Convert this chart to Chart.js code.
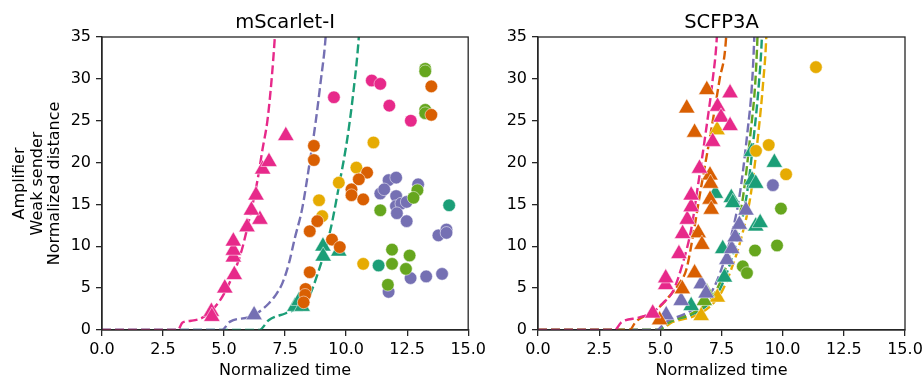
<!DOCTYPE html>
<html><head><meta charset="utf-8">
<script src="https://cdn.jsdelivr.net/npm/chart.js@4"></script>
<style>
html,body{margin:0;padding:0;background:#fff;overflow:hidden;}
#wrap{position:relative;width:923px;height:379px;overflow:hidden;}
.box{position:absolute;top:0;}
</style></head><body>
<div id="wrap">
  <div class="box" style="left:0;width:490px;height:379px"><canvas id="c1" width="490" height="379"></canvas></div>
  <div class="box" style="left:490px;width:443px;height:379px"><canvas id="c2" width="443" height="379"></canvas></div>
</div>
<script>
// ---------- data: left panel (mScarlet-I) ----------
const L_pinkTri = [[4.48,2.2],[4.5,1.6],[5.03,5.0],[5.42,6.6],[5.38,8.7],[5.38,9.5],[5.38,10.6],[5.94,12.3],[6.47,13.2],[6.12,14.3],[6.31,16.1],[6.58,19.2],[6.84,20.1],[7.53,23.2]];
const L_purpleTri = [[6.23,1.8]];
const L_tealTri = [[7.9,2.8],[8.07,3.5],[8.2,2.8],[9.05,10.0],[9.06,8.8],[9.7,9.4]];
const L_pinkCirc = [[9.5,27.8],[11.05,29.8],[11.4,29.4],[11.77,26.8],[12.65,25.0]];
const L_orangeCirc = [[8.68,22.0],[8.68,20.3],[13.49,29.1],[13.49,25.7],[10.86,18.8],[10.52,18.0],[10.22,16.8],[10.22,16.1],[10.7,15.6],[8.82,13.0],[8.51,11.8],[9.42,10.8],[9.74,9.9],[8.51,6.9],[8.34,4.9],[8.32,4.2],[8.26,3.3]];
const L_yellowCirc = [[11.12,22.4],[10.42,19.4],[9.7,17.6],[8.89,15.5],[9.02,13.6],[10.7,7.9]];
const L_limeCirc = [[13.24,31.2],[13.24,30.9],[13.24,26.3],[13.24,25.9],[12.92,16.7],[12.76,15.8],[11.4,14.3],[11.88,9.6],[11.88,7.9],[12.6,8.9],[12.45,7.3],[11.71,5.4]];
const L_tealCirc = [[11.33,7.7],[14.22,14.9]];
const L_purpleCirc = [[11.74,17.9],[12.05,18.2],[11.4,16.3],[11.56,16.8],[12.05,16.0],[12.95,17.4],[12.04,14.8],[12.26,15.1],[12.48,15.3],[12.08,13.95],[12.48,13.0],[13.78,11.3],[14.11,12.0],[14.11,11.6],[12.64,6.2],[13.28,6.4],[13.93,6.7],[11.74,4.55]];
const L_pinkFit = [[0,0],[3.1,0],[3.3,0.9],[3.65,1.1],[4.19,1.6],[4.8,3.4],[5.28,6.0],[5.69,9.2],[6.03,13.2],[6.37,17.9],[6.57,21.5],[6.78,25.1],[6.95,30],[7.08,35],[7.12,37]];
const L_purpleFit = [[0,0],[4.9,0],[5.25,1.0],[6.03,1.55],[6.4,2.1],[6.84,3.2],[7.12,4.2],[7.39,5.6],[7.66,8.0],[7.9,11.0],[8.2,14.5],[8.48,19.5],[8.75,24.8],[8.95,29.5],[9.16,35],[9.2,37]];
const L_tealFit = [[0,0],[6.44,0],[6.84,1.2],[7.53,2.0],[8.0,2.6],[8.41,3.6],[8.89,7.2],[9.36,12],[9.7,17.1],[10.04,22.7],[10.3,28.5],[10.52,35],[10.56,37]];

// ---------- data: right panel (SCFP3A) ----------
const R_pinkTri = [[4.69,2.0],[5.22,5.4],[5.22,6.2],[5.76,9.1],[5.91,11.5],[6.1,13.2],[6.26,14.7],[6.26,16.1],[6.6,19.3],[7.14,22.5],[7.34,26.7],[7.48,25.4],[7.85,24.4],[7.85,28.3]];
const R_orangeTri = [[4.97,1.2],[5.9,4.9],[6.4,6.8],[6.55,11.6],[6.7,10.2],[6.08,26.5],[6.4,23.6],[6.9,28.7],[7.03,18.5],[7.05,17.5],[7.03,15.6],[7.08,14.4]];
const R_purpleTri = [[5.24,1.8],[5.85,3.5],[6.67,5.5],[6.87,4.4],[7.72,8.4],[7.92,9.7],[8.06,11.1],[8.23,12.6],[8.5,14.3]];
const R_tealTri = [[6.26,2.9],[7.25,16.3],[7.55,9.7],[7.62,6.3],[7.9,15.8],[7.96,15.2],[8.73,21.3],[8.75,17.9],[8.9,17.5],[8.9,12.4],[9.08,12.8],[9.66,20.0]];
const R_limeTri = [[6.8,3.5],[6.9,4.5]];
const R_yellowTri = [[6.67,1.7],[7.33,3.9],[7.32,23.9]];
const R_yellowCirc = [[11.36,31.4],[9.43,22.1],[8.91,21.4],[10.14,18.6]];
const R_purpleCirc = [[9.6,17.3]];
const R_limeCirc = [[9.93,14.5],[9.77,10.1],[8.87,9.5],[8.37,7.6],[8.54,6.8]];
const R_pinkFit = [[0,0],[3.13,0],[3.4,0.9],[4.15,1.5],[4.69,2.1],[5.1,3.2],[5.51,4.6],[5.92,8.0],[6.26,12],[6.53,17.1],[6.87,23.9],[7.14,29.9],[7.31,35],[7.34,37]];
const R_orangeFit = [[0,0],[3.74,0],[4.0,1.0],[4.83,2.4],[5.3,3.8],[5.78,5.6],[6.06,7.2],[6.35,11.5],[6.6,15.9],[7.08,23.9],[7.42,29.9],[7.69,35],[7.72,37]];
const R_purpleFit = [[0,0],[4.85,0],[5.2,0.9],[6.19,2.2],[6.7,3.3],[7.14,4.8],[7.5,7.3],[7.82,10.4],[8.23,15.9],[8.57,23.9],[8.75,29.5],[8.84,35],[8.86,37]];
const R_limeFit = [[0,0],[4.9,0],[5.3,0.9],[6.3,2.0],[6.9,3.2],[7.3,4.8],[7.68,7.5],[7.98,10.4],[8.38,15.9],[8.7,23.9],[8.88,29.5],[8.97,35],[8.99,37]];
const R_tealFit = [[0,0],[4.95,0],[5.35,0.9],[6.4,2.0],[7.0,3.2],[7.42,4.8],[7.8,7.5],[8.1,10.4],[8.52,15.9],[8.85,23.9],[9.03,29.5],[9.15,35],[9.17,37]];
const R_yellowFit = [[0,0],[5.0,0],[5.4,0.8],[6.5,1.8],[7.1,3.0],[7.55,4.8],[7.93,7.5],[8.25,10.4],[8.68,15.9],[9.02,23.9],[9.2,29.5],[9.33,35],[9.35,37]];

// axis tick labels / titles
const titles = ['mScarlet-I', 'SCFP3A'];
const xLabel = 'Normalized time';
const yLabel = ['Amplifier', 'Weak sender', 'Normalized distance'];

// ---------- styles ----------
const C = {teal:'#1b9e77', orange:'#d95f02', purple:'#7570b3', pink:'#e7298a', lime:'#66a61e', yellow:'#e6ab02'};
const FONT = 'DejaVu Sans';
const AX = '#262626';

function pts(a){ return a.map(p => ({x:p[0], y:p[1]})); }
function tri(a,c){ return {data:pts(a), pointStyle:'triangle', pointRadius:9.5, backgroundColor:c, borderColor:'rgba(255,255,255,0.85)', borderWidth:0.6, showLine:false}; }
function circ(a,c){ return {data:pts(a), pointStyle:'circle', pointRadius:6.3, backgroundColor:c, borderColor:'rgba(255,255,255,0.85)', borderWidth:0.6, showLine:false}; }
function fit(a,c){ return {data:pts(a), showLine:true, pointRadius:0, borderColor:c, borderWidth:2.4, borderDash:[9,4], cubicInterpolationMode:'monotone', fill:false}; }

const framePlugin = {
  id:'frame',
  afterDraw(chart, args, opts){
    const {ctx, chartArea:a} = chart;
    ctx.save();
    ctx.strokeStyle = AX; ctx.lineWidth = 1.3;
    ctx.strokeRect(a.left, a.top, a.right - a.left, a.bottom - a.top);
    ctx.fillStyle = '#000';
    ctx.font = '19.5px "' + FONT + '"';
    ctx.textAlign = 'center'; ctx.textBaseline = 'alphabetic';
    ctx.fillText(opts.text, (a.left + a.right) / 2, 28);
    ctx.restore();
  }
};

function makeScales(yTitle, yWidth){
  const tickFont = {family:FONT, size:16};
  return {
    x:{type:'linear', min:0, max:15,
       ticks:{stepSize:2.5, callback:v => Number(v).toFixed(1), color:'#000', font:tickFont, padding:4, maxRotation:0, autoSkip:false},
       grid:{drawOnChartArea:false, drawTicks:true, tickLength:6, color:AX, lineWidth:1.3},
       border:{display:true, color:AX, width:1.3},
       title:{display:true, text:xLabel, color:'#000', font:{family:FONT, size:16}, padding:{top:0, bottom:-1}},
       afterFit(s){ s.height = 49; }},
    y:{type:'linear', min:0, max:35,
       ticks:{stepSize:5, color:'#000', font:tickFont, padding:5},
       grid:{drawOnChartArea:false, drawTicks:true, tickLength:6, color:AX, lineWidth:1.3},
       border:{display:true, color:AX, width:1.3},
       title:{display:!!yTitle, text:yTitle || '', color:'#000', font:{family:FONT, size:16, lineHeight:1.1}, padding:{top:11, bottom:0}},
       afterFit(s){ s.width = yWidth; }}
  };
}

function makeChart(id, datasets, title, yTitle, yWidth, padRight){
  return new Chart(document.getElementById(id), {
    type:'scatter',
    data:{datasets},
    options:{
      responsive:false, animation:false, events:[],
      layout:{padding:{top:37, right:padRight, bottom:0, left:0}},
      plugins:{legend:{display:false}, tooltip:{enabled:false}, frame:{text:title}},
      scales:makeScales(yTitle, yWidth)
    },
    plugins:[framePlugin]
  });
}

makeChart('c1', [
  circ(L_pinkCirc, C.pink), circ(L_orangeCirc, C.orange), circ(L_yellowCirc, C.yellow),
  circ(L_limeCirc, C.lime), circ(L_tealCirc, C.teal), circ(L_purpleCirc, C.purple),
  tri(L_pinkTri, C.pink), tri(L_purpleTri, C.purple), tri(L_tealTri, C.teal),
  fit(L_pinkFit, C.pink), fit(L_purpleFit, C.purple), fit(L_tealFit, C.teal)
], titles[0], yLabel, 102, 20);

makeChart('c2', [
  circ(R_yellowCirc, C.yellow), circ(R_purpleCirc, C.purple), circ(R_limeCirc, C.lime),
  tri(R_pinkTri, C.pink), tri(R_orangeTri, C.orange), tri(R_purpleTri, C.purple),
  tri(R_tealTri, C.teal), tri(R_limeTri, C.lime), tri(R_yellowTri, C.yellow),
  fit(R_pinkFit, C.pink), fit(R_orangeFit, C.orange), fit(R_purpleFit, C.purple),
  fit(R_limeFit, C.lime), fit(R_tealFit, C.teal), fit(R_yellowFit, C.yellow)
], titles[1], null, 48, 28);
</script>
</body></html>
